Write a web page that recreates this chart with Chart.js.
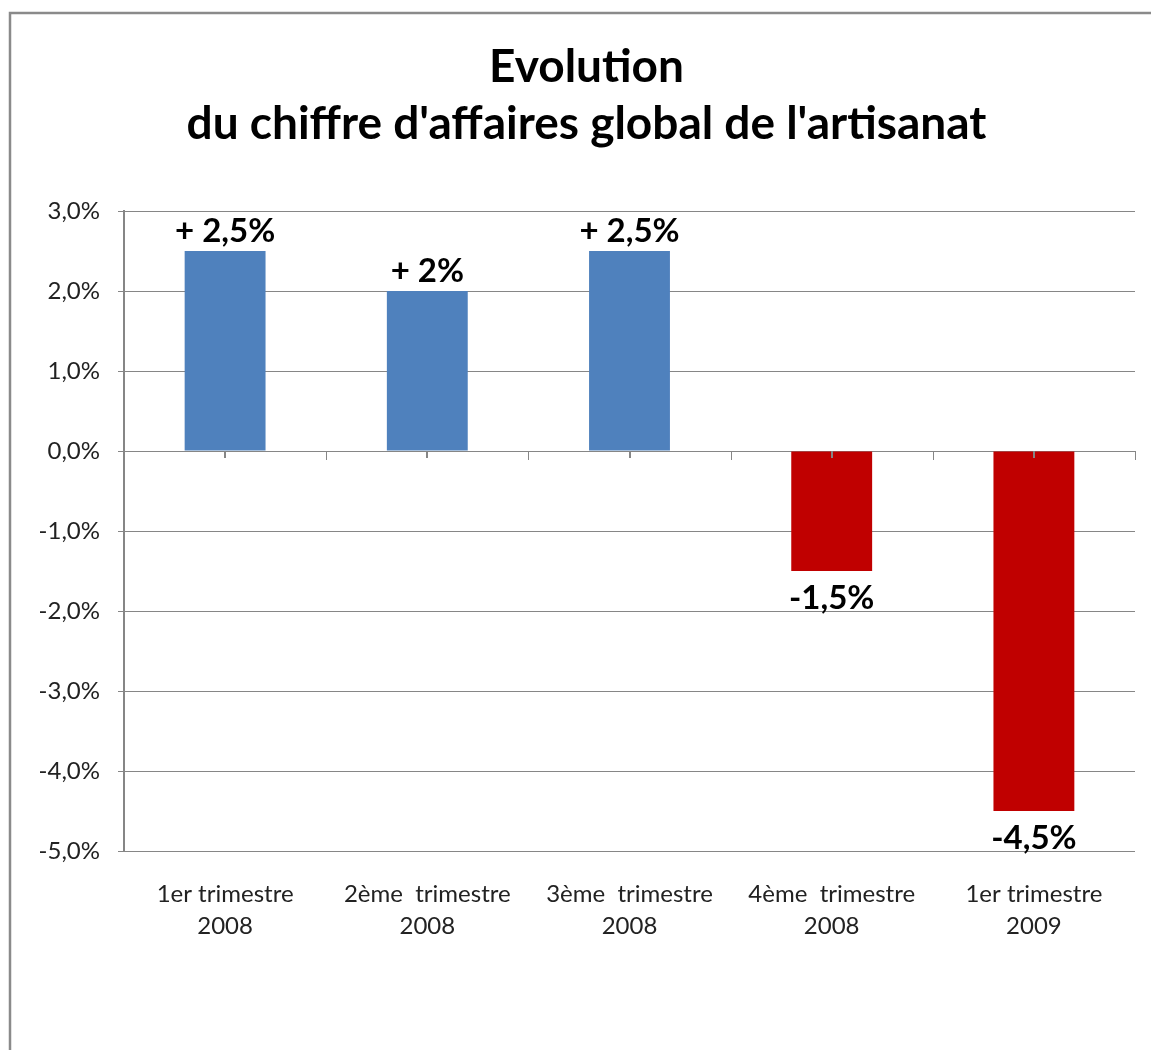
<!DOCTYPE html>
<html>
<head>
<meta charset="utf-8">
<script src="https://cdn.jsdelivr.net/npm/chart.js@4"></script>
<style>
  html, body { margin: 0; padding: 0; background: #fff; }
  #caChart { display: block; }
</style>
</head>
<body>
<canvas id="caChart" width="1151" height="1050"></canvas>
<script>
const categories = [
  ['1er trimestre', '2008'],
  ['2ème  trimestre', '2008'],
  ['3ème  trimestre', '2008'],
  ['4ème  trimestre', '2008'],
  ['1er trimestre', '2009']
];
const evolution = [2.5, 2, 2.5, -1.5, -4.5];
const valueLabels = ['+ 2,5%', '+ 2%', '+ 2,5%', '-1,5%', '-4,5%'];
const yTicks = [3, 2, 1, 0, -1, -2, -3, -4, -5];

const blue = '#4F81BD';
const red = '#C00000';
const gridGray = '#868686';
const fontFamily = 'Lato, "Open Sans", sans-serif';

// cadre gris (bord gauche et haut visibles)
const framePlugin = {
  id: 'frame',
  afterLayout: (chart) => {
    // le titre est centré un peu à droite, comme dans Excel
    if (chart.titleBlock) chart.titleBlock.left += 38;
  },
  beforeDraw: (chart) => {
    const ctx = chart.ctx;
    ctx.save();
    ctx.strokeStyle = '#8a8a8a';
    ctx.lineWidth = 2.5;
    ctx.strokeRect(10, 13, 1300, 1200);
    ctx.restore();
  }
};

// graduations sur l'axe du zéro
const zeroTicksPlugin = {
  id: 'zeroTicks',
  afterDatasetsDraw: (chart) => {
    const {ctx, scales: {x, y}} = chart;
    const y0 = y.getPixelForValue(0);
    ctx.save();
    ctx.strokeStyle = gridGray;
    ctx.lineWidth = 1;
    for (let i = 0; i <= categories.length; i++) {
      const xb = Math.round(x.getPixelForValue(i - 0.5)) + 0.5;
      ctx.beginPath();
      ctx.moveTo(xb, y0);
      ctx.lineTo(xb, y0 + 9);
      ctx.stroke();
    }
    ctx.lineWidth = 2;
    for (let i = 0; i < categories.length; i++) {
      const xc = Math.round(x.getPixelForValue(i));
      ctx.beginPath();
      ctx.moveTo(xc, y0);
      ctx.lineTo(xc, y0 + 7);
      ctx.stroke();
    }
    ctx.restore();
  }
};

const valueLabelPlugin = {
  id: 'valueLabels',
  afterDatasetsDraw: (chart) => {
    const ctx = chart.ctx;
    const meta = chart.getDatasetMeta(0);
    ctx.save();
    ctx.font = 'bold 33px ' + fontFamily;
    ctx.fillStyle = '#000';
    ctx.textAlign = 'center';
    meta.data.forEach((bar, i) => {
      if (evolution[i] >= 0) {
        ctx.textBaseline = 'bottom';
        ctx.fillText(valueLabels[i], bar.x, bar.y - 3);
      } else {
        ctx.textBaseline = 'top';
        ctx.fillText(valueLabels[i], bar.x, bar.y + 11);
      }
    });
    ctx.restore();
  }
};

new Chart(document.getElementById('caChart'), {
  type: 'bar',
  data: {
    labels: categories,
    datasets: [{
      data: evolution,
      backgroundColor: evolution.map(v => v >= 0 ? blue : red),
      borderWidth: 0,
      categoryPercentage: 1,
      barPercentage: 0.4
    }]
  },
  options: {
    responsive: false,
    animation: false,
    devicePixelRatio: 1,
    layout: { padding: { left: 0, right: 16, top: 0, bottom: 0 } },
    plugins: {
      legend: { display: false },
      tooltip: { enabled: false },
      title: {
        display: true,
        text: ['Evolution', "du chiffre d'affaires global de l'artisanat"],
        color: '#000',
        font: { family: fontFamily, size: 46, weight: 'bold', lineHeight: 1.25 },
        padding: { top: 38, bottom: 58 }
      }
    },
    scales: {
      x: {
        grid: { display: false },
        border: { display: false },
        ticks: {
          color: '#222',
          font: { family: fontFamily, size: 24, lineHeight: 1.3 },
          padding: 20,
          maxRotation: 0,
          autoSkip: false
        },
        afterFit: (s) => { s.height = 199; }
      },
      y: {
        min: -5,
        max: 3,
        afterBuildTicks: (s) => { s.ticks = yTicks.map(v => ({ value: v })); },
        grid: { color: gridGray, lineWidth: 1, tickLength: 6 },
        border: { color: gridGray, width: 2 },
        ticks: {
          color: '#222',
          font: { family: fontFamily, size: 24 },
          padding: 18,
          callback: (v) => v.toFixed(1).replace('.', ',') + '%'
        },
        afterFit: (s) => { s.width = 124; }
      }
    }
  },
  plugins: [framePlugin, zeroTicksPlugin, valueLabelPlugin]
});
</script>
</body>
</html>
